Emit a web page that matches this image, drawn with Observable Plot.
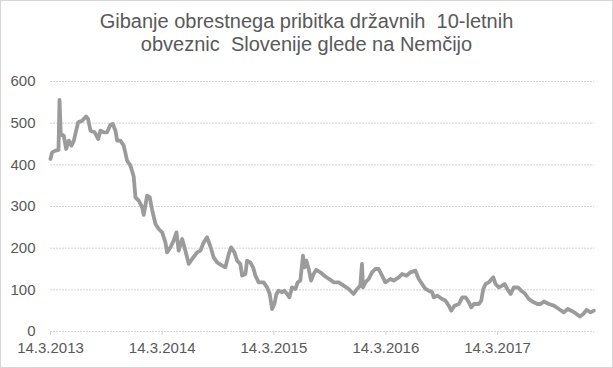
<!DOCTYPE html>
<html>
<head>
<meta charset="utf-8">
<script src="https://cdn.jsdelivr.net/npm/d3@7"></script>
<script src="https://cdn.jsdelivr.net/npm/@observablehq/plot@0.6"></script>
<style>
  html, body { margin: 0; padding: 0; background: #fff; }
  #wrap { position: relative; width: 613px; height: 368px; overflow: hidden; font-family: "Liberation Sans", Arial, sans-serif; }
  #frame { position: absolute; left: 0; top: 0; width: 613px; height: 368px; box-sizing: border-box; border: 1px solid #d6d6d6; pointer-events: none; }
  #title { height: 62px; box-sizing: border-box; padding-top: 10px; text-align: center; font-size: 20px; line-height: 23px; color: #595959; white-space: pre; }
  svg { display: block; }
</style>
</head>
<body>
<div id="wrap">
  <div id="title"></div>
  <div id="chart"></div>
  <div id="frame"></div>
</div>
<script>
const titleLines = ["Gibanje obrestnega pribitka državnih  10-letnih", "obveznic  Slovenije glede na Nemčijo"];

// time as decimal years, spread in basis points
const t = [2013.197,2013.212,2013.242,2013.269,2013.278,2013.289,2013.316,2013.337,2013.361,2013.385,
2013.406,2013.427,2013.445,2013.481,2013.516,2013.534,2013.555,2013.593,2013.624,2013.644,
2013.674,2013.704,2013.734,2013.755,2013.779,2013.794,2013.823,2013.853,2013.883,2013.913,
2013.942,2013.958,2013.987,2014.018,2014.032,2014.062,2014.086,2014.107,2014.137,2014.166,
2014.197,2014.226,2014.241,2014.271,2014.300,2014.325,2014.345,2014.376,2014.405,2014.435,
2014.465,2014.510,2014.539,2014.569,2014.599,2014.629,2014.658,2014.689,2014.734,2014.763,
2014.793,2014.814,2014.844,2014.868,2014.897,2014.913,2014.942,2014.957,2014.987,2015.011,
2015.032,2015.061,2015.106,2015.136,2015.160,2015.181,2015.202,2015.220,2015.240,2015.271,
2015.291,2015.315,2015.336,2015.360,2015.390,2015.410,2015.434,2015.458,2015.470,2015.488,
2015.509,2015.530,2015.553,2015.577,2015.613,2015.658,2015.703,2015.732,2015.777,2015.822,
2015.867,2015.911,2015.942,2015.971,2015.986,2015.995,2016.016,2016.046,2016.076,2016.105,
2016.135,2016.165,2016.195,2016.240,2016.269,2016.314,2016.344,2016.383,2016.419,2016.463,
2016.493,2016.523,2016.553,2016.582,2016.613,2016.627,2016.658,2016.702,2016.732,2016.761,
2016.783,2016.812,2016.851,2016.881,2016.911,2016.940,2016.962,2016.985,2017.030,2017.051,
2017.069,2017.090,2017.119,2017.159,2017.179,2017.209,2017.239,2017.260,2017.284,2017.314,
2017.343,2017.379,2017.409,2017.439,2017.477,2017.508,2017.553,2017.582,2017.612,2017.656,
2017.701,2017.746,2017.791,2017.826,2017.857,2017.895,2017.934,2017.964,2017.994,2018.030,
2018.059];
const spread = [414,430,434,436,556,474,470,438,458,446,
458,482,502,506,516,510,482,478,462,482,
478,478,496,498,482,458,458,446,410,398,
372,322,314,298,280,326,322,292,258,246,
238,214,190,202,218,238,194,222,194,162,
174,190,194,214,226,204,178,166,158,154,
186,202,190,170,162,134,138,170,166,154,
134,118,118,106,90,54,66,90,98,94,
98,90,82,106,102,118,122,182,154,170,
150,122,138,148,142,132,124,118,118,110,
102,90,102,110,162,106,118,126,142,150,
150,134,118,126,122,130,138,134,142,146,
126,114,102,98,94,82,86,78,74,62,
50,62,66,82,82,70,58,66,66,74,
102,114,118,130,114,106,110,114,102,90,
106,106,98,92,78,72,66,66,72,66,
62,54,46,54,50,44,36,42,52,46,
50];

const xTickLabels = ["14.3.2013","14.3.2014","14.3.2015","14.3.2016","14.3.2017"];
const xTickDates = [new Date(Date.UTC(2013,2,14)), new Date(Date.UTC(2014,2,14)), new Date(Date.UTC(2015,2,14)), new Date(Date.UTC(2016,2,14)), new Date(Date.UTC(2017,2,14))];
const yTicks = [0,100,200,300,400,500,600];
const xEnd = 2018.065;

function yearToDate(y) {
  const yr = Math.floor(y);
  const a = Date.UTC(yr, 0, 1), b = Date.UTC(yr + 1, 0, 1);
  return new Date(a + (y - yr) * (b - a));
}

document.getElementById("title").textContent = titleLines.join("\n");

const data = t.map((y, i) => ({date: yearToDate(y), value: spread[i]}));
const labelFor = new Map(xTickDates.map((d, i) => [+d, xTickLabels[i]]));

const chart = Plot.plot({
  width: 613,
  height: 306,
  marginLeft: 50,
  marginRight: 19,
  marginTop: 19,
  marginBottom: 37,
  style: {fontFamily: "'Liberation Sans', Arial, sans-serif", fontSize: "15px", color: "#595959", background: "transparent", overflow: "visible"},
  x: {type: "utc", domain: [xTickDates[0], yearToDate(xEnd)]},
  y: {domain: [0, 600]},
  marks: [
    Plot.ruleY(yTicks, {stroke: "#d4d4d4", strokeWidth: 1, strokeDasharray: "2,1"}),
    Plot.axisY({ticks: yTicks, tickSize: 0, tickPadding: 15, label: null, fill: "#595959"}),
    Plot.axisX({ticks: xTickDates, tickFormat: d => labelFor.get(+d), tickSize: 4, tickPadding: 7, label: null, stroke: "#d4d4d4", fill: "#595959"}),
    Plot.line(data, {x: "date", y: "value", stroke: "#9b9b9b", strokeWidth: 3.8, strokeLinejoin: "round", strokeLinecap: "round"})
  ]
});
document.getElementById("chart").appendChild(chart);
</script>
</body>
</html>
